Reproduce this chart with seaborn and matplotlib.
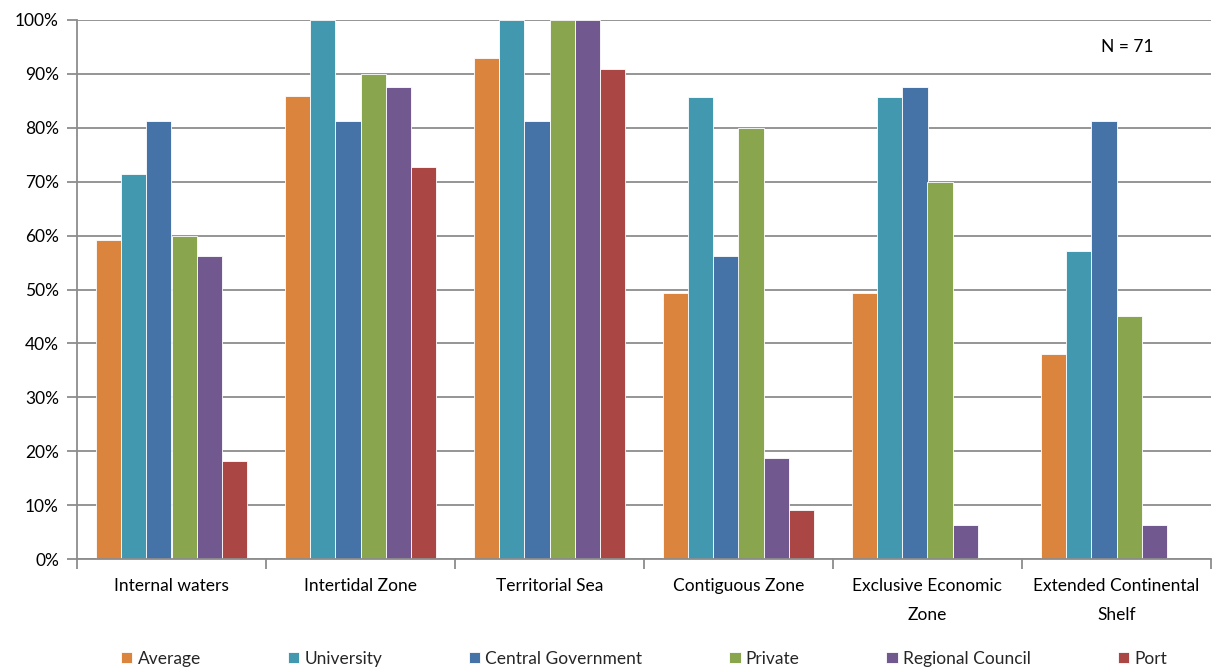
import numpy as np
import pandas as pd
import matplotlib
matplotlib.use("Agg")
import matplotlib.pyplot as plt
from matplotlib.ticker import PercentFormatter, FixedLocator
import seaborn as sns

# Share of respondents by maritime zone and organisation type
zones = ["Internal waters", "Intertidal Zone", "Territorial Sea",
         "Contiguous Zone", "Exclusive Economic\nZone", "Extended Continental\nShelf"]
groups = ["Average", "University", "Central Government", "Private",
          "Regional Council", "Port"]

average = [59.2, 85.9, 92.9, 49.3, 49.3, 38.0]
university = [71.4, 100.0, 100.0, 85.7, 85.7, 57.1]
central_government = [81.25, 81.25, 81.25, 56.25, 87.5, 81.25]
private = [60.0, 90.0, 100.0, 80.0, 70.0, 45.0]
regional_council = [56.25, 87.5, 100.0, 18.75, 6.25, 6.25]
port = [18.2, 72.7, 90.9, 9.1, 0.0, 0.0]

colors = ["#DB843D", "#4198AF", "#4572A7", "#89A54E", "#71588F", "#AA4643"]

series = [average, university, central_government, private, regional_council, port]
df = pd.DataFrame(
    [(z, g, v) for g, vals in zip(groups, series) for z, v in zip(zones, vals)],
    columns=["zone", "group", "value"],
)

sns.set_theme(style="white")
plt.rcParams["font.family"] = ["Lato", "DejaVu Sans"]

fig = plt.figure(figsize=(12.19, 6.70), dpi=100)
ax = fig.add_axes([77 / 1219, 1 - 559 / 670, (1211 - 77) / 1219, (559 - 20) / 670])

sns.barplot(data=df, x="zone", y="value", hue="group", order=zones,
            hue_order=groups, palette=colors, width=0.8, saturation=1,
            edgecolor="white", linewidth=0.6, ax=ax, legend=True)

ax.set_ylim(0, 100)
ax.set_xlim(-0.5, len(zones) - 0.5)
ax.yaxis.set_major_locator(FixedLocator(np.arange(0, 101, 10)))
ax.yaxis.set_major_formatter(PercentFormatter(decimals=0))
ax.yaxis.grid(True, color="#8C8C8C", linewidth=1.3)
ax.set_axisbelow(True)
ax.set_xlabel("")
ax.set_ylabel("")

for side in ["top", "right"]:
    ax.spines[side].set_visible(False)
for side in ["left", "bottom"]:
    ax.spines[side].set_color("#8C8C8C")
    ax.spines[side].set_linewidth(1.3)

ax.tick_params(axis="y", which="major", direction="out", length=7, width=1.3,
               color="#8C8C8C", labelsize=12.5, labelcolor="black", left=True, pad=6)
ax.tick_params(axis="x", which="major", length=0, labelsize=12.5,
               labelcolor="black", pad=14)
ax.xaxis.set_minor_locator(FixedLocator(np.arange(-0.5, len(zones), 1.0)))
ax.tick_params(axis="x", which="minor", direction="out", length=7, width=1.3,
               color="#8C8C8C", bottom=True)
for lbl in ax.get_xticklabels():
    lbl.set_linespacing(1.95)

ax.text(0.926, 0.95, "N = 71", transform=ax.transAxes, ha="center", va="center",
        fontsize=12.5, color="black")

handles, labels = ax.get_legend_handles_labels()
ax.legend(handles, labels, loc="center", bbox_to_anchor=(0.5, -0.185),
          ncol=6, frameon=False, fontsize=12.5, handlelength=0.65,
          handleheight=0.65, handletextpad=0.3, columnspacing=5.0)

fig.savefig("out.png", dpi=100, facecolor="white")
